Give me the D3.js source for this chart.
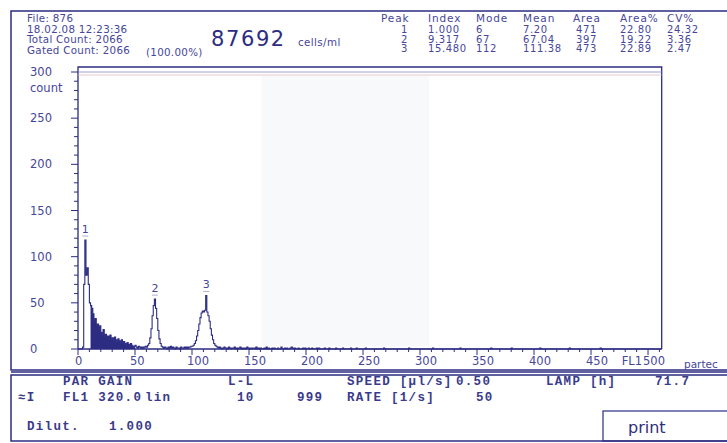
<!DOCTYPE html>
<html>
<head>
<meta charset="utf-8">
<script src="https://cdn.jsdelivr.net/npm/d3@7"></script>
<style>
body { margin: 0; background: #fff; }
svg { display: block; }
</style>
</head>
<body>
<div id="chart"></div>
<script>
// counts per channel 0..259
const counts = [
  0,0,0,0,2,70,118,80,88,70,
  50,47,44,38,30,33,24,27,20,25,
  18,14,21,12,16,11,14,10,15,9,
  12,8,13,10,7,11,9,6,10,5,
  8,6,4,7,5,3,6,4,2,3,
  4,2,1,3,2,1,2,1,2,3,
  2,4,6,12,22,36,47,54,44,33,
  20,11,6,3,2,1,2,1,0,2,
  1,3,1,2,1,0,2,1,1,0,
  2,1,1,2,1,2,1,2,2,3,
  3,4,6,9,14,20,27,34,39,41,
  40,42,58,40,36,30,22,15,10,6,
  4,3,2,1,2,1,0,1,2,1,
  1,0,2,1,0,1,1,2,0,1,
  0,1,2,0,1,0,1,0,2,1,
  0,1,0,1,1,0,2,0,1,0,
  1,0,0,1,0,2,0,1,0,0,
  1,0,1,0,0,1,0,0,2,0,
  0,1,0,1,0,0,1,2,1,0,
  1,0,0,1,0,0,0,1,0,1,
  0,0,1,0,0,1,0,0,0,1,
  0,1,0,0,0,0,1,0,0,0,
  1,0,0,0,0,0,1,0,0,0,
  0,0,1,0,0,0,0,0,0,1,
  0,0,0,0,1,0,0,0,0,0,
  0,0,1,0,0,0,0,0,0,0
]
// sparse counts beyond channel 259
const tailCounts = [[268,1],[290,1],[311,1],[335,1],[362,1],[380,1],[405,1],[431,1],[458,1]]
const gateRange = [11, 50]

const xTicks = [0,50,100,150,200,250,300,350,400,450,500]
const yTicks = [0,50,100,150,200,250,300]

const peakIds = ['1','2','3']
const peakIndex = ['1.000','9.317','15.480']
const peakMode = [6, 67, 112]
const peakMean = ['7.20','67.04','111.38']
const peakArea = ['471','397','473']
const peakAreaPct = ['22.80','19.22','22.89']
const peakCV = ['24.32','3.36','2.47']

const headerLines = ['File: 876','18.02.08  12:23:36','Total Count:  2066','Gated Count: 2066']

const width = 727, height = 443
const ink = '#2c2c82', txt = '#46469a'
const sans = 'DejaVu Sans, Verdana, sans-serif'

const svg = d3.select('#chart').append('svg')
    .attr('width', width)
    .attr('height', height)
    .style('font-family', sans)

// frames
svg.append('rect').attr('x', 11).attr('y', 11).attr('width', 730).attr('height', 359)
    .attr('fill', 'none').attr('stroke', ink).attr('stroke-width', 1.5)
svg.append('line').attr('x1', 11).attr('x2', 727).attr('y1', 372).attr('y2', 372)
    .attr('stroke', ink).attr('stroke-width', 1.5)
svg.append('rect').attr('x', 11).attr('y', 375).attr('width', 730).attr('height', 66)
    .attr('fill', 'none').attr('stroke', ink).attr('stroke-width', 1.5)

let x = d3.scaleLinear().domain([0, 512]).range([78, 661.7])
let y = d3.scaleLinear().domain([0, 300]).range([349, 72])

// faint shaded region
svg.append('rect').attr('x', x(161)).attr('y', 76).attr('width', x(308) - x(161)).attr('height', 270)
    .attr('fill', '#f8f9fa')

// plot frame
svg.append('path')
    .attr('d', 'M' + x(0) + ',' + y(0) + 'V67H' + x(512) + 'V' + y(0))
    .attr('fill', 'none').attr('stroke', ink).attr('stroke-width', 1.3)
svg.append('line').attr('x1', x(0)).attr('x2', x(512)).attr('y1', y(300)).attr('y2', y(300))
    .attr('stroke', '#8a8ac4').attr('stroke-width', 0.8)
svg.append('line').attr('x1', x(0)).attr('x2', x(512)).attr('y1', y(300) + 3).attr('y2', y(300) + 3)
    .attr('stroke', '#e2b8c8').attr('stroke-width', 0.8)

// histogram data
let hist = counts.map(function(c, i){ return {ch: i, v: c} })
for (let ch = counts.length; ch <= 512; ch++) hist.push({ch: ch, v: 0})
tailCounts.forEach(function(d){ hist[d[0]].v = d[1] })

let gated = hist.filter(function(d){ return d.ch >= gateRange[0] && d.ch <= gateRange[1] })

svg.append('path')
    .datum(gated)
    .attr('fill', ink)
    .attr('d', d3.area().curve(d3.curveStepAfter)
        .x(function(d){ return x(d.ch) })
        .y0(y(0))
        .y1(function(d){ return y(d.v) }))

svg.append('path')
    .datum(hist)
    .attr('fill', 'none')
    .attr('stroke', ink)
    .attr('stroke-width', 1.1)
    .attr('d', d3.line().curve(d3.curveStepAfter)
        .x(function(d){ return x(d.ch) })
        .y(function(d){ return y(d.v) }))

// x axis
svg.append('line').attr('x1', x(0)).attr('x2', x(512)).attr('y1', y(0)).attr('y2', y(0))
    .attr('stroke', ink).attr('stroke-width', 1.3)
svg.append('g').selectAll('line').data(d3.range(0, 511, 10)).enter().append('line')
    .attr('x1', function(d){ return x(d) }).attr('x2', function(d){ return x(d) })
    .attr('y1', y(0)).attr('y2', function(d){ return d % 50 == 0 ? y(0) + 6 : y(0) + 3 })
    .attr('stroke', ink)
svg.append('g').selectAll('text').data(xTicks).enter().append('text')
    .attr('x', function(d){ return x(d) - (d == 0 ? 3 : 5) })
    .attr('y', 365)
    .attr('font-size', 11.5).attr('fill', txt)
    .text(function(d){ return d })
svg.append('text').attr('x', x(500) - 6).attr('y', 365).attr('text-anchor', 'end')
    .attr('font-size', 11.5).attr('fill', txt).text('FL1')
svg.append('text').attr('x', 684).attr('y', 368).attr('font-size', 10.5).attr('fill', txt).text('partec')

// y axis
svg.append('g').selectAll('line').data(d3.range(0, 301, 10)).enter().append('line')
    .attr('y1', function(d){ return y(d) }).attr('y2', function(d){ return y(d) })
    .attr('x1', function(d){ return d % 50 == 0 ? 71 : 74 }).attr('x2', x(0))
    .attr('stroke', ink)
svg.append('g').selectAll('text').data(yTicks).enter().append('text')
    .attr('x', 30)
    .attr('y', function(d){ return y(d) + 4 })
    .attr('font-size', 11.5).attr('fill', txt)
    .text(function(d){ return d })
svg.append('text').attr('x', 30).attr('y', 92).attr('font-size', 11.5).attr('fill', txt).text('count')

// peak labels
peakIds.forEach(function(p, i){
    let px = x(peakMode[i]) + 0.5
    let py = y(hist[peakMode[i]].v)
    svg.append('text').attr('x', px).attr('y', py - 7)
        .attr('text-anchor', 'middle').attr('font-size', 11).attr('fill', txt).text(p)
    svg.append('line').attr('x1', px - 3).attr('x2', px + 3).attr('y1', py - 4).attr('y2', py - 4)
        .attr('stroke', '#9a9ac8').attr('stroke-width', 0.8)
})

// header
svg.append('g').selectAll('text').data(headerLines).enter().append('text')
    .attr('x', 27).attr('y', function(d, i){ return 22 + i * 10.6 })
    .attr('font-size', 10.3).attr('letter-spacing', 0.3).attr('fill', txt)
    .text(function(d){ return d })
svg.append('text').attr('x', 211).attr('y', 46).attr('font-size', 21).attr('letter-spacing', 1.6)
    .attr('fill', ink).text('87692')
svg.append('text').attr('x', 298).attr('y', 46).attr('font-size', 10.3).attr('letter-spacing', 0.4)
    .attr('fill', txt).text('cells/ml')
svg.append('text').attr('x', 146).attr('y', 56).attr('font-size', 10.3).attr('letter-spacing', 0.3)
    .attr('fill', txt).text('(100.00%)')

// peak table
let cols = [
    {name: 'Peak', x: 381, vals: peakIds, vx: 408, anchor: 'end'},
    {name: 'Index', x: 428, vals: peakIndex, vx: 428, anchor: 'start'},
    {name: 'Mode', x: 476, vals: peakMode, vx: 476, anchor: 'start'},
    {name: 'Mean', x: 523, vals: peakMean, vx: 523, anchor: 'start'},
    {name: 'Area', x: 573, vals: peakArea, vx: 597, anchor: 'end'},
    {name: 'Area%', x: 620, vals: peakAreaPct, vx: 620, anchor: 'start'},
    {name: 'CV%', x: 667, vals: peakCV, vx: 667, anchor: 'start'}
]
cols.forEach(function(c){
    svg.append('text').attr('x', c.x).attr('y', 22).attr('font-size', 10.5)
        .attr('letter-spacing', 0.9).attr('fill', txt).text(c.name)
    c.vals.forEach(function(v, i){
        svg.append('text').attr('x', c.vx).attr('y', 33 + i * 9.6)
            .attr('text-anchor', c.anchor)
            .attr('font-size', 10).attr('letter-spacing', 0.6).attr('fill', txt).text(v)
    })
})

// bottom panel
let panel = [
    ['PAR GAIN', 63, 385], ['L-L', 228, 385], ['SPEED [µl/s]', 347, 385], ['0.50', 456, 385],
    ['LAMP [h]', 546, 385], ['71.7', 655, 385],
    ['≈I', 18, 401], ['FL1 320.0', 63, 401], ['lin', 145, 401], ['10', 237, 401], ['999', 297, 401],
    ['RATE  [1/s]', 347, 401], ['50', 476, 401],
    ['Dilut.', 27, 430], ['1.000', 109, 430]
]
svg.append('g').selectAll('text').data(panel).enter().append('text')
    .attr('x', function(d){ return d[1] }).attr('y', function(d){ return d[2] })
    .attr('font-family', 'Liberation Mono, DejaVu Sans Mono, monospace')
    .attr('font-weight', 'bold').attr('font-size', 12.5).attr('letter-spacing', 1.3)
    .attr('fill', '#3a3a8c')
    .text(function(d){ return d[0] })

svg.append('rect').attr('x', 603).attr('y', 411).attr('width', 130).attr('height', 30)
    .attr('fill', 'none').attr('stroke', ink).attr('stroke-width', 1.2)
svg.append('text').attr('x', 628).attr('y', 433).attr('font-size', 16).attr('fill', '#2f2f7e').text('print')
</script>
</body>
</html>
